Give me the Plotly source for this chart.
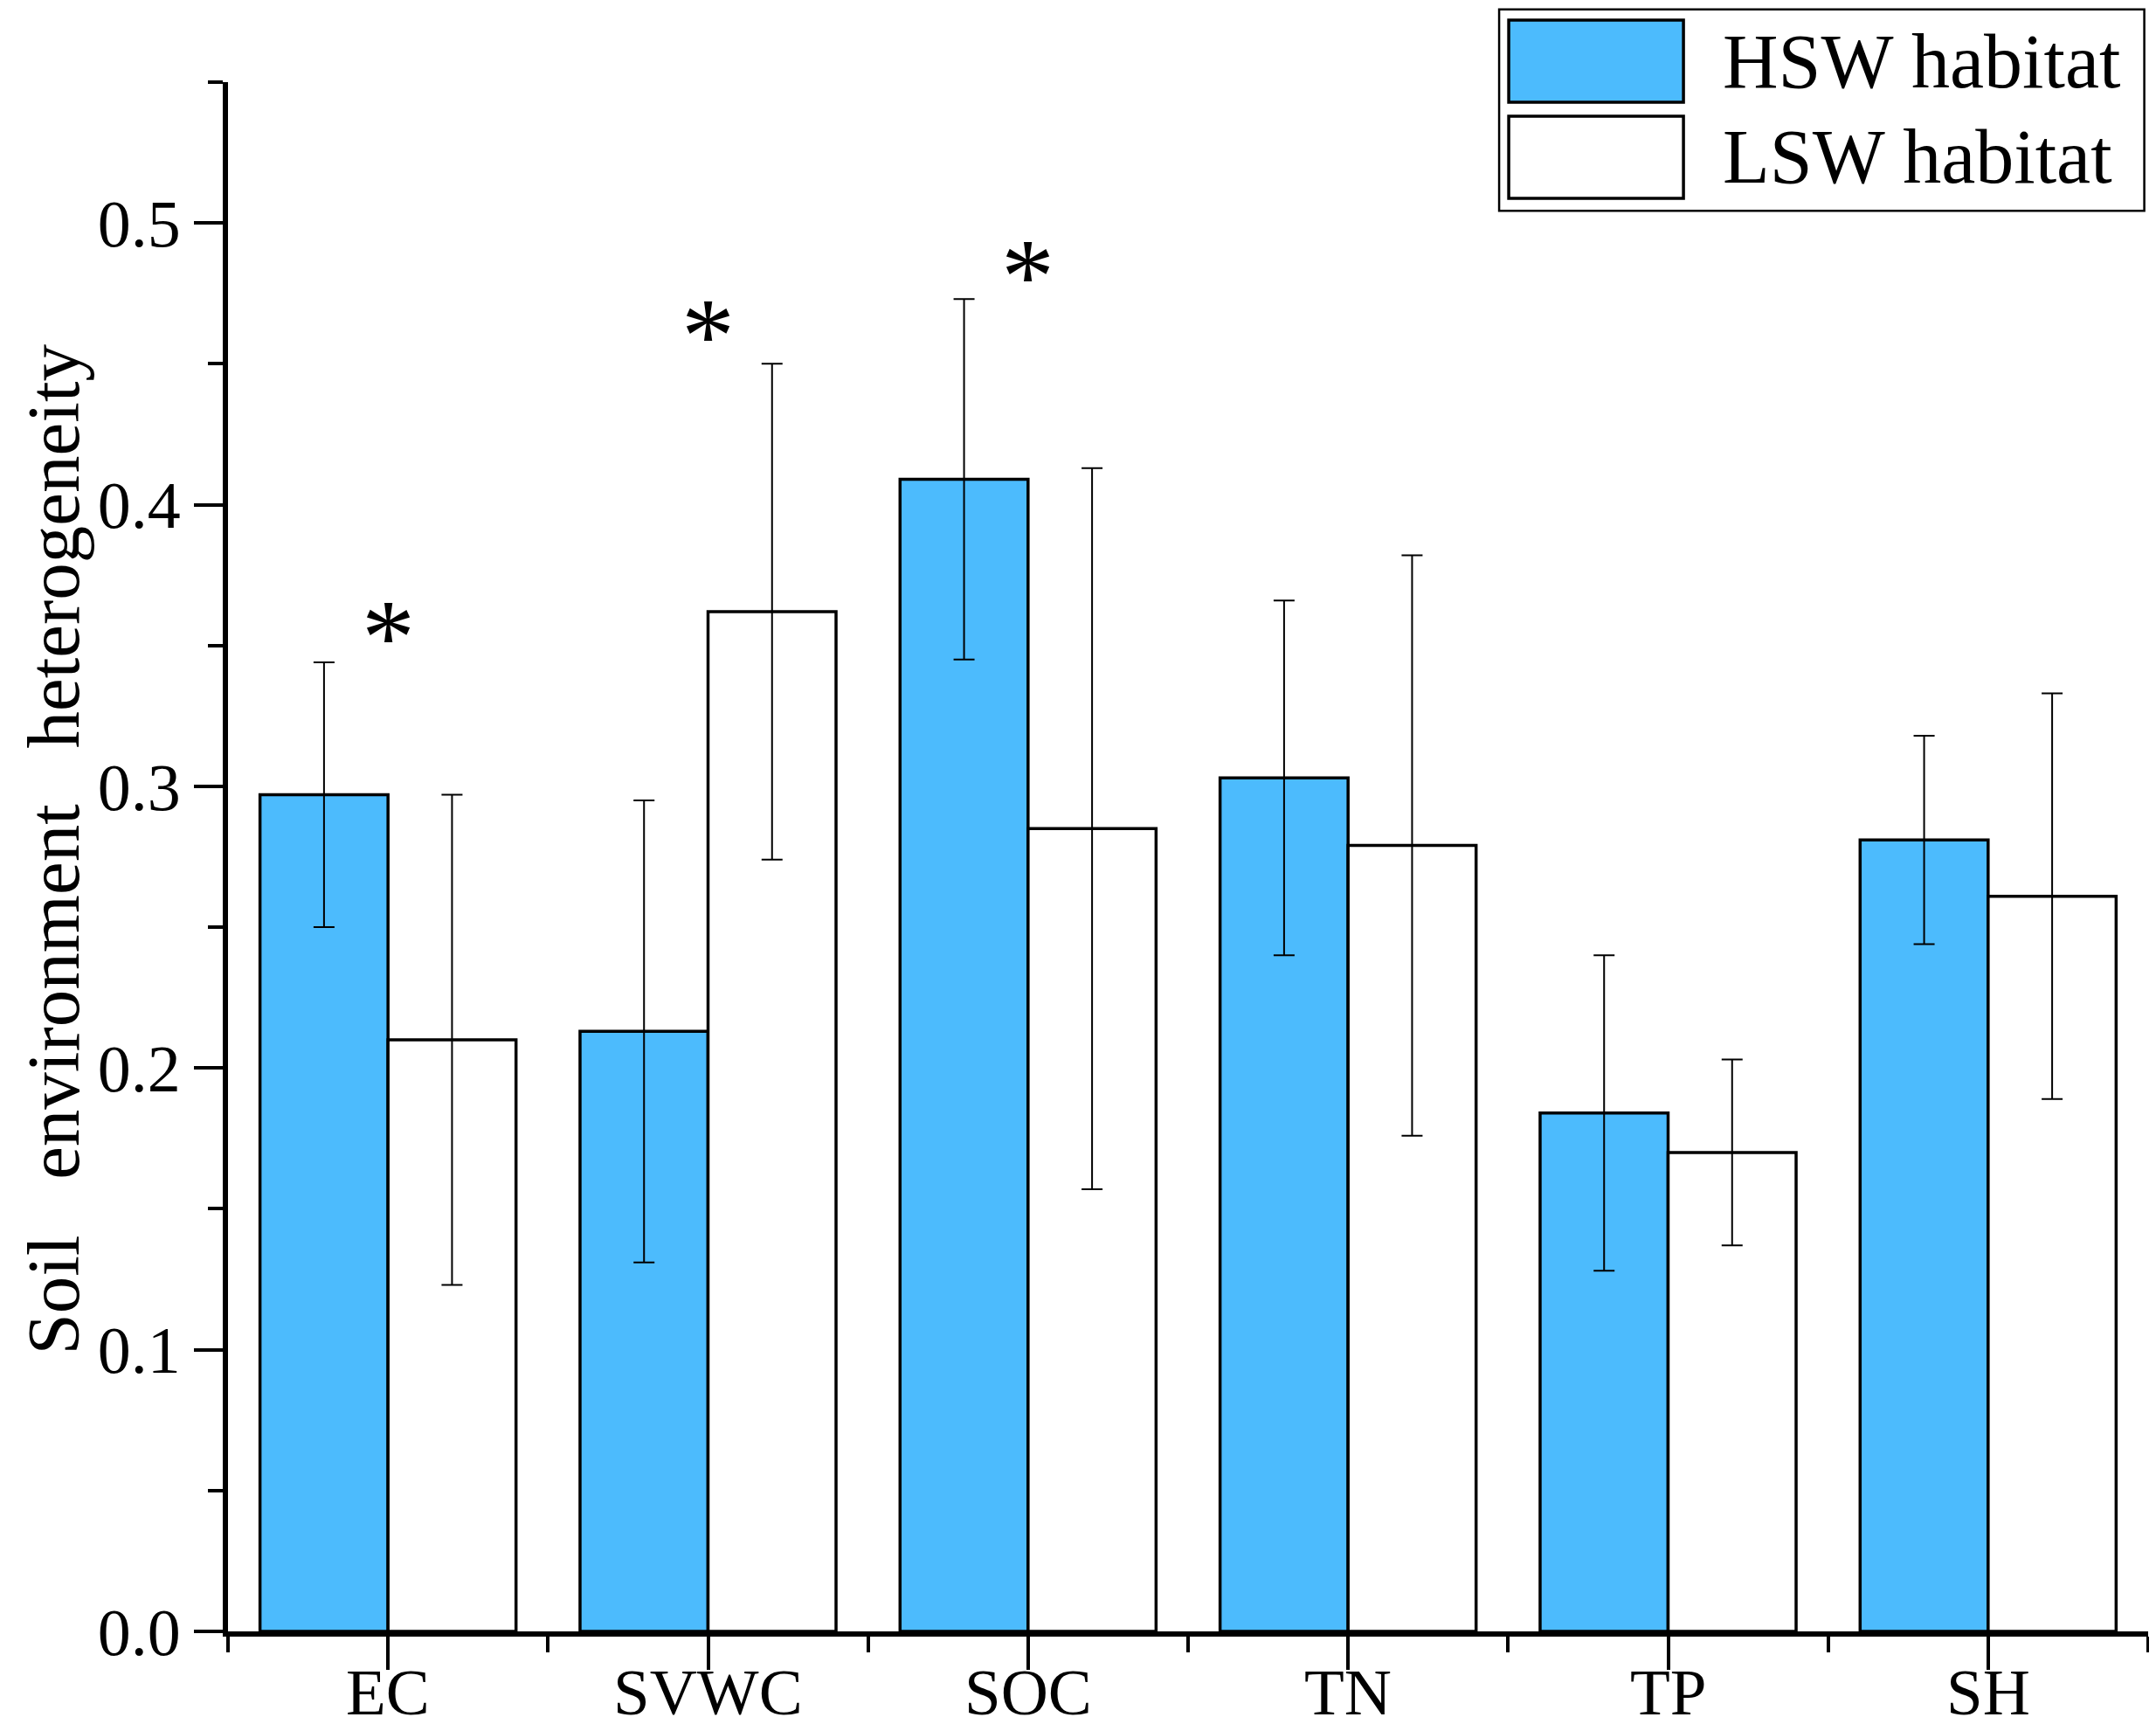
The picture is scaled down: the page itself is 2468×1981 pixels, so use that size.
import plotly.graph_objects as go

categories = ['EC', 'SVWC', 'SOC', 'TN', 'TP', 'SH']
series_names = ['HSW habitat', 'LSW habitat']
hsw_values = [0.297, 0.213, 0.409, 0.303, 0.184, 0.281]
hsw_errors = [0.047, 0.082, 0.064, 0.063, 0.056, 0.037]
lsw_values = [0.210, 0.362, 0.285, 0.279, 0.170, 0.261]
lsw_errors = [0.087, 0.088, 0.128, 0.103, 0.033, 0.072]
star_labels = ['EC', 'SVWC', 'SOC']
star_heights = [0.357, 0.464, 0.485]
y_ticks = [0.0, 0.1, 0.2, 0.3, 0.4, 0.5]

FONT = 'Liberation Serif'
BLUE = '#4CBBFD'
x_pos = list(range(len(categories)))

fig = go.Figure()
for name, vals, errs, col in [(series_names[0], hsw_values, hsw_errors, BLUE),
                              (series_names[1], lsw_values, lsw_errors, 'white')]:
    fig.add_trace(go.Bar(
        name=name, x=x_pos, y=vals,
        marker=dict(color=col, line=dict(color='black', width=3.5)),
        error_y=dict(type='data', array=errs, color='black', thickness=2, width=12),
        showlegend=False))

# significance stars
for lab, h in zip(star_labels, star_heights):
    fig.add_annotation(x=categories.index(lab), y=h, text='*', showarrow=False,
                       font=dict(family=FONT, size=122, color='black'),
                       xref='x', yref='y', yanchor='middle', yshift=-12)

# category labels placed by hand so they sit close to the axis like the original
for i, lab in zip(x_pos, categories):
    fig.add_annotation(x=i, y=0, xref='x', yref='paper', text=lab, showarrow=False,
                       yanchor='top', yshift=-26,
                       font=dict(family=FONT, size=75, color='black'))

# hand-made legend (large swatches like the original)
fig.add_shape(type='rect', xref='paper', yref='paper', x0=0.662, x1=0.998, y0=0.917, y1=1.047,
              line=dict(color='black', width=2.5), fillcolor='white', layer='above')
sw = [(1.040, 0.987, BLUE), (0.978, 0.925, 'white')]
for (top, bot, col), name in zip(sw, series_names):
    fig.add_shape(type='rect', xref='paper', yref='paper', x0=0.667, x1=0.758, y0=bot, y1=top,
                  line=dict(color='black', width=3.5), fillcolor=col, layer='above')
    fig.add_annotation(xref='paper', yref='paper', x=0.7776, y=(top + bot) / 2, text=name,
                       showarrow=False, xanchor='left', yanchor='middle',
                       font=dict(family=FONT, size=88, color='black'))

fig.add_annotation(xref='paper', yref='paper', x=-0.091, y=0.505, textangle=-90,
                   text='Soil   environment   heterogeneity', showarrow=False,
                   xanchor='center', yanchor='middle', borderpad=0,
                   font=dict(family=FONT, size=85, color='black'))

fig.update_layout(
    width=2468, height=1981,
    margin=dict(l=253, r=17, t=86, b=122),
    paper_bgcolor='white', plot_bgcolor='white',
    barmode='group', bargap=0.2, bargroupgap=0,
    font=dict(family=FONT, color='black'),
)
fig.update_xaxes(
    range=[-0.5, 5.5], tickvals=x_pos, showticklabels=False, automargin=False,
    showline=True, linecolor='black', linewidth=6, showgrid=False, zeroline=False,
    ticks='outside', ticklen=38, tickwidth=4, tickcolor='black',
    minor=dict(tick0=0.5, dtick=1, ticks='outside', ticklen=18, tickwidth=4, tickcolor='black'),
)
fig.update_yaxes(
    range=[0, 0.55], tickvals=y_ticks, ticktext=[f'{v:.1f}' for v in y_ticks], automargin=False,
    showline=True, linecolor='black', linewidth=6, showgrid=False, zeroline=False,
    ticks='outside', ticklen=33, tickwidth=4, tickcolor='black',
    tickfont=dict(family=FONT, size=76, color='black'),
    minor=dict(tick0=0.05, dtick=0.1, ticks='outside', ticklen=17, tickwidth=4, tickcolor='black'),
)

fig.write_html('out.html')
